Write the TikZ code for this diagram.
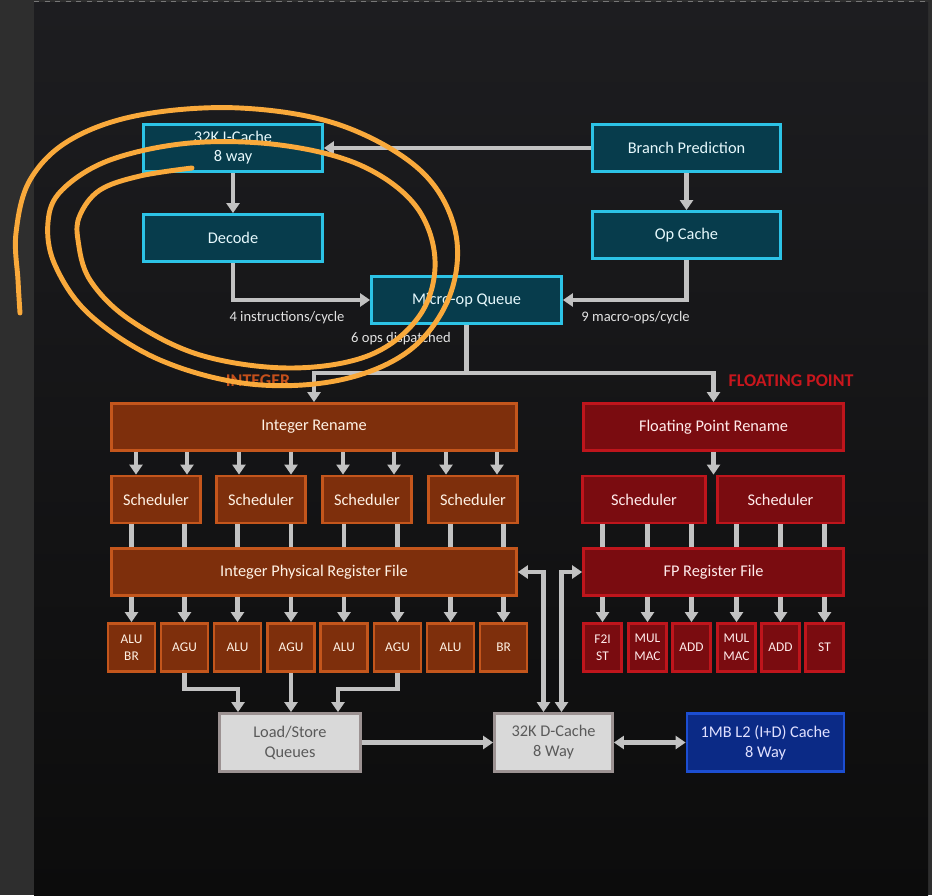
\documentclass[tikz,border=0pt]{standalone}
\usepackage{fontspec}
\setmainfont{Carlito}
\usetikzlibrary{arrows.meta, positioning, calc}

\definecolor{screen}{HTML}{2E2E2E}
\definecolor{slidetop}{HTML}{1D1D20}
\definecolor{slidebot}{HTML}{0C0C0C}
\definecolor{tealfill}{HTML}{073C4C}
\definecolor{tealline}{HTML}{2CC3E6}
\definecolor{intfill}{HTML}{7E2F0C}
\definecolor{intline}{HTML}{C4561C}
\definecolor{fpfill}{HTML}{7A0C10}
\definecolor{fpline}{HTML}{BF151C}
\definecolor{lsfill}{HTML}{D9D9D9}
\definecolor{lsline}{HTML}{9C9292}
\definecolor{lstext}{HTML}{5A5A5A}
\definecolor{l2fill}{HTML}{0B2A86}
\definecolor{l2line}{HTML}{1C4ED2}
\definecolor{wire}{HTML}{C2C2C2}
\definecolor{inttitle}{HTML}{C5501B}
\definecolor{fptitle}{HTML}{C8161D}
\definecolor{scribble}{HTML}{F9A93B}
\definecolor{labeltext}{HTML}{E2E2E2}

\begin{document}
\begin{tikzpicture}[x=0.02cm, y=-0.02cm,
    > = {Triangle[width=7.4pt,length=5.7pt]},
    block/.style={draw, line width=1.6pt, align=center, inner sep=0pt, minimum height=0.94cm, font=\fontsize{9.3}{10.8}\selectfont},
    front/.style={block, fill=tealfill, draw=tealline, text=white!88!tealline},
    intblock/.style={block, fill=intfill, draw=intline, text=white!90!orange},
    fpblock/.style={block, fill=fpfill, draw=fpline, text=white!92!red},
    unit/.style={minimum height=0.96cm, minimum width=0.94cm, font=\fontsize{7.6}{10}\selectfont},
    memblock/.style={block, minimum height=1.16cm, font=\fontsize{9.3}{11.3}\selectfont},
    flow/.style={->, draw=wire, line width=2.3pt},
    link/.style={draw=wire, line width=2.3pt},
    twoway/.style={<->, draw=wire, line width=2.3pt},
    note/.style={text=labeltext, font=\fontsize{8.3}{10}\selectfont},
    grouptitle/.style={font=\bfseries\fontsize{10.2}{12}\selectfont},
    scrawl/.style={draw=scribble, line width=2.8pt, line cap=round, line join=round}
]
    \useasboundingbox (0,0) rectangle (932,895);
    \fill[screen] (0,0) rectangle (932,895);
    \shade[top color=slidetop, bottom color=slidebot] (34,3) rectangle (928,895);
    \draw[white!35!screen, dashed, line width=0.6pt] (34,1.5) -- (928,1.5);

    % front end
    \node[front, minimum width=3.58cm] (icache) at (233,148) {32K I-Cache\\8 way};
    \node[front, minimum width=3.58cm] (decode) at (233,238) {Decode};
    \node[front, minimum width=3.76cm] (branch) at (686.5,148) {Branch Prediction};
    \node[front, minimum width=3.76cm] (opcache) at (686.5,235) {Op Cache};
    \node[front, minimum width=3.8cm] (uop) at (466.5,300) {Micro-op Queue};

    \node[note] (declabel) at (287,318) {4 instructions/cycle};
    \node[note] (oplabel) at (635.5,318) {9 macro-ops/cycle};
    \node[note] (displabel) at (401,339) {6 ops dispatched};

    \node[grouptitle, text=inttitle] (inttitle) at (258,381) {INTEGER};
    \node[grouptitle, text=fptitle] (fptitle) at (791,381) {FLOATING POINT};

    % integer side
    \node[intblock, minimum width=8.1cm] (irename) at (314,427) {Integer Rename};
    \foreach \x [count=\i] in {156,261,367,473}
        \node[intblock, minimum width=1.78cm] (isched\i) at (\x,499.5) {Scheduler};
    \node[intblock, minimum width=8.1cm] (iprf) at (314,572) {Integer Physical Register File};
    \foreach \x/\t [count=\i] in {131.5/ALU\\BR, 184.5/AGU, 237.5/ALU, 291/AGU, 344/ALU, 397.5/AGU, 450.5/ALU, 503.5/BR}
        \node[intblock, unit] (iu\i) at (\x,647.5) {\t};

    % floating point side
    \node[fpblock, minimum width=5.2cm] (frename) at (713.5,427) {Floating Point Rename};
    \node[fpblock, minimum width=2.46cm] (fsched1) at (644,499.5) {Scheduler};
    \node[fpblock, minimum width=2.52cm] (fsched2) at (780.5,499.5) {Scheduler};
    \node[fpblock, minimum width=5.2cm] (fprf) at (713.5,572) {FP Register File};
    \foreach \x/\t [count=\i] in {602.5/F2I\\ST, 647.5/MUL\\MAC, 691.5/ADD, 736.5/MUL\\MAC, 780.5/ADD, 824.5/ST}
        \node[fpblock, unit, minimum width=0.76cm] (fu\i) at (\x,647.5) {\t};

    % memory
    \node[memblock, fill=lsfill, draw=lsline, text=lstext, minimum width=2.82cm] (lsq) at (290,742.5) {Load/Store\\Queues};
    \node[memblock, fill=lsfill, draw=lsline, text=lstext, minimum width=2.36cm] (dcache) at (553.5,742.5) {32K D-Cache\\8 Way};
    \node[memblock, fill=l2fill, draw=l2line, text=white!88!blue, minimum width=3.14cm] (l2) at (765.5,742.5) {1MB L2 (I+D) Cache\\8 Way};

    % front end wiring
    \draw[flow] (branch.west) -- (icache.east);
    \draw[flow] (icache.south) -- (decode.north);
    \draw[flow] (decode.south) |- (uop.west);
    \draw[flow] (opcache.south) |- (uop.east);
    \draw[flow] (branch.south) -- (opcache.north);
    \coordinate (split) at ($(uop.south)+(0,48)$);
    \draw[flow] (uop.south) -- (split) -| (irename.north);
    \draw[flow] (split) -| (frename.north);

    % integer wiring
    \foreach \x in {136,187,239,291,343,394,446,497}
        \draw[flow] (irename.south -| \x,0) -- (isched1.north -| \x,0);
    \foreach \i in {1,...,8} {
        \draw[link] (isched1.south -| iu\i) -- (iprf.north -| iu\i);
        \draw[flow] (iprf.south -| iu\i) -- (iu\i.north);
    }

    % fp wiring
    \draw[flow] (frename.south) -- (frename.south |- fsched1.north);
    \foreach \i in {1,...,6} {
        \draw[link] (fsched1.south -| fu\i) -- (fprf.north -| fu\i);
        \draw[flow] (fprf.south -| fu\i) -- (fu\i.north);
    }

    % memory wiring
    \draw[flow] (iu2.south) -- ++(0,16) -| ([xshift=-1.04cm]lsq.north);
    \draw[flow] (iu4.south) -- (iu4.south |- lsq.north);
    \draw[flow] (iu6.south) -- ++(0,16) -| ([xshift=0.96cm]lsq.north);
    \draw[flow] (lsq.east) -- (dcache.west);
    \draw[twoway] (dcache.east) -- (l2.west);
    \draw[twoway] (iprf.east) -| ([xshift=-0.2cm]dcache.north);
    \draw[twoway] (fprf.west) -| ([xshift=0.16cm]dcache.north);

    % hand-drawn marking
    \draw[scrawl] plot[smooth, tension=0.6] coordinates {(192,168) (140,176) (100,190) (80,215) (78,240) (90,280) (130,320) (200,355) (290,368) (370,355) (420,315) (435,260) (415,205) (360,165) (280,145) (190,143) (110,160) (62,190) (48,222) (55,265) (90,315) (160,360) (250,384) (340,380) (410,350) (450,295) (455,230) (420,170) (340,125) (240,108) (140,115) (70,140) (30,180) (16,233) (18,280) (20,313)};
\end{tikzpicture}
\end{document}
